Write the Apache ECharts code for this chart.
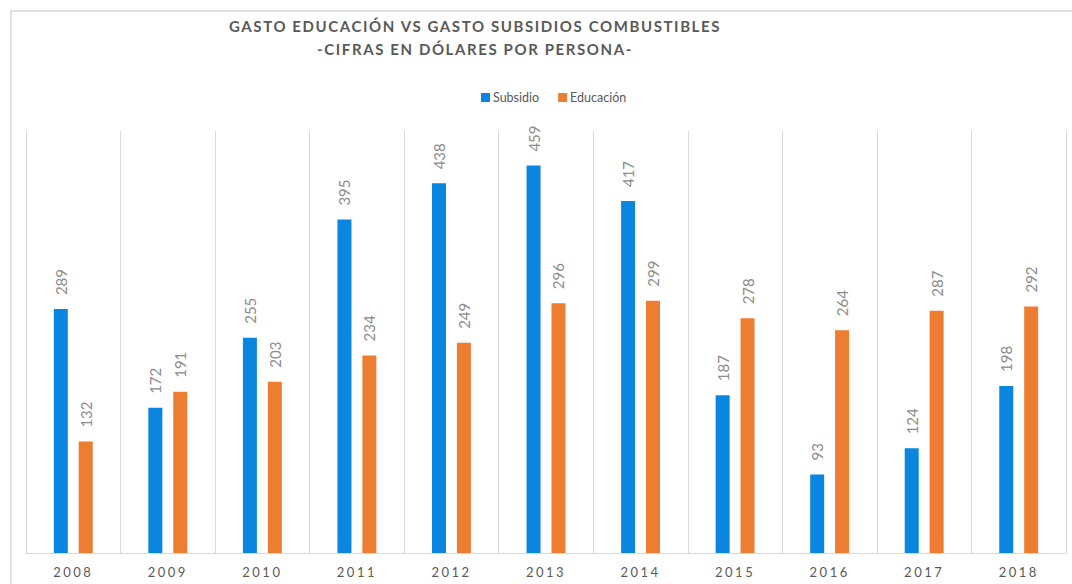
<!DOCTYPE html>
<html>
<head>
<meta charset="utf-8">
<script src="https://cdn.jsdelivr.net/npm/echarts@6/dist/echarts.min.js"></script>
<style>
html,body{margin:0;padding:0;background:#fff;}
#frame{position:absolute;left:10px;top:10px;width:1080px;height:600px;border-left:2px solid #e0e0e0;border-top:2px solid #e0e0e0;box-sizing:border-box;}
#chart{position:absolute;left:0;top:0;width:1072px;height:584px;}
</style>
</head>
<body>
<div id="frame"></div>
<div id="chart"></div>
<script>
var years = ['2008','2009','2010','2011','2012','2013','2014','2015','2016','2017','2018'];
var subsidio = [289,172,255,395,438,459,417,187,93,124,198];
var educacion = [132,191,203,234,249,296,299,278,264,287,292];
var titleText = 'GASTO EDUCACIÓN VS GASTO SUBSIDIOS COMBUSTIBLES\n-CIFRAS EN DÓLARES POR PERSONA-';

var chart = echarts.init(document.getElementById('chart'), null, {renderer:'svg'});
var labelStyle = {
  show:true, position:'top', rotate:90, align:'left', verticalAlign:'middle',
  distance:14, color:'#8c8c8c', fontSize:15, fontFamily:'Lato'
};
chart.setOption({
  animation:false,
  backgroundColor:'transparent',
  title:{
    text:titleText, left:470, top:9, textAlign:'center',
    textStyle:{fontFamily:'Lato', fontWeight:'bold', fontSize:15, color:'#595959', lineHeight:23}
  },
  legend:{
    data:['Subsidio','Educación'], top:86, itemWidth:9, itemHeight:9, itemGap:19,
    icon:'rect', left:476,
    textStyle:{fontFamily:'Lato', fontSize:12.5, color:'#595959', padding:[0,0,0,-2]}
  },
  grid:{left:26, right:6, top:131, bottom:31, containLabel:false},
  xAxis:{
    type:'category', data:years,
    axisLine:{lineStyle:{color:'#d9d9d9', width:1}},
    axisTick:{show:false},
    axisLabel:{color:'#595959', fontFamily:'Lato', fontSize:13, margin:12},
    splitLine:{show:true, lineStyle:{color:'#d9d9d9', width:1}}
  },
  yAxis:{type:'value', min:0, max:500, show:false, splitLine:{show:false}},
  series:[
    {name:'Subsidio', type:'bar', data:subsidio, itemStyle:{color:'#0a86e0'}, barWidth:14, barGap:'78%', label:labelStyle},
    {name:'Educación', type:'bar', data:educacion, itemStyle:{color:'#ed7d31'}, barWidth:14, label:labelStyle}
  ]
});
function spacing(){
  var texts = document.querySelectorAll('#chart svg text');
  texts.forEach(function(t){
    var s = t.textContent;
    if (years.indexOf(s) >= 0) t.style.letterSpacing = '2.5px';
    else if (/GASTO|CIFRAS/.test(s)) t.style.letterSpacing = '1.6px';
  });
}
chart.on('finished', spacing);
spacing();
</script>
</body>
</html>
